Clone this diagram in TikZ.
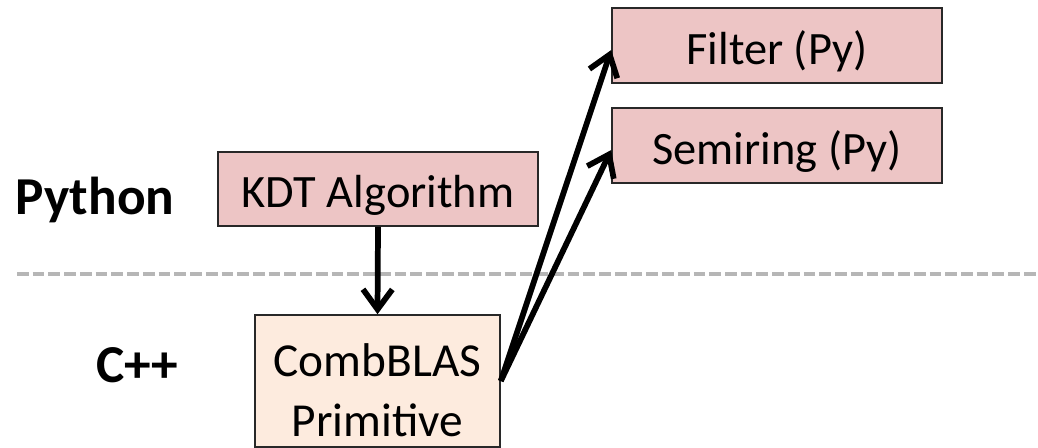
\documentclass[tikz,border=0pt]{standalone}
\usepackage{fontspec}
\setmainfont{Carlito}
\usetikzlibrary{arrows.meta}
\definecolor{pinkfill}{RGB}{237,197,197}
\definecolor{peachfill}{RGB}{253,235,222}
\definecolor{boxline}{RGB}{40,40,40}
\definecolor{dashgray}{RGB}{182,182,182}
\tikzset{
  pbox/.style={draw=boxline, line width=1.2pt, fill=pinkfill, inner sep=0pt,
    font=\fontsize{34.8pt}{40pt}\selectfont, text height=30pt, text depth=2pt},
  cbox/.style={draw=boxline, line width=1.2pt, fill=peachfill, inner sep=0pt},
  boxtext/.style={align=center, inner sep=0pt, font=\fontsize{35.5pt}{45pt}\selectfont},
  layer/.style={font=\bfseries\fontsize{40pt}{44pt}\selectfont, inner sep=0pt, anchor=base},
  arr/.style={line width=4.3pt, -{Straight Barb[length=15pt,width=22pt]}},
  divider/.style={dashgray, line width=2.6pt, dash pattern=on 8.8pt off 3pt}
}
\begin{document}
\begin{tikzpicture}[x=0.75pt,y=-0.75pt]
\useasboundingbox (0,0) rectangle (1038,448);
\draw[divider] (17,274) -- (1038,274);
\node[layer] (py) at (95,215) {Python};
\node[layer] (cpp) at (137.5,383) {C++};
\node[pbox, minimum width=240pt, minimum height=55.5pt] (kdt) at (378,189) {KDT Algorithm};
\node[cbox, minimum width=183.75pt, minimum height=99pt] (comb) at (377.5,381) {};
\node[boxtext] (combtxt) at (377.5,390) {CombBLAS\\Primitive};
\node[pbox, minimum width=247.5pt, minimum height=56.25pt] (filter) at (777,45.5) {Filter (Py)};
\node[pbox, minimum width=247.5pt, minimum height=56.25pt] (semi) at (777,145.5) {Semiring (Py)};
\draw[arr] (kdt.south) -- (comb.north);
\draw[arr] (comb.east) -- ([yshift=-3.4pt]filter.west);
\draw[arr] (comb.east) -- ([yshift=-3.4pt]semi.west);
\end{tikzpicture}
\end{document}
